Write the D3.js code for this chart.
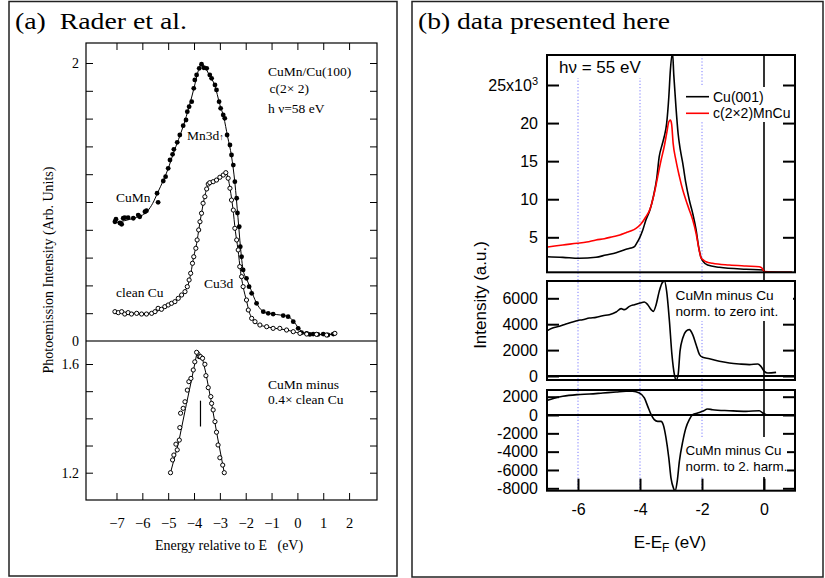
<!DOCTYPE html>
<html><head><meta charset="utf-8">
<script src="https://cdn.jsdelivr.net/npm/d3@7"></script>
<style>
body{margin:0;background:#fff;}
svg{display:block;}
.serif{font-family:"Liberation Serif","Times New Roman",serif;}
.sans{font-family:"Liberation Sans",Arial,Helvetica,sans-serif;}
</style></head><body>
<svg id="fig" width="825" height="578"></svg>
<script>
// ---------- (a) Rader et al. : photoemission spectra, hv = 58 eV ----------
// [energy (eV), intensity (arb. units)]
const cuMnPoints = [[-7.06,0.858],[-7.02,0.876],[-6.87,0.849],[-6.80,0.840],[-6.74,0.883],[-6.68,0.887],[-6.55,0.887],[-6.35,0.883],[-6.16,0.906],[-6.10,0.894],[-5.90,0.930],[-5.84,0.937],[-5.43,1.063],[-5.39,0.998],[-5.19,1.151],[-5.10,1.182],[-5.00,1.242],[-4.93,1.302],[-4.83,1.343],[-4.78,1.379],[-4.65,1.429],[-4.55,1.482],[-4.42,1.549],[-4.31,1.590],[-4.26,1.650],[-4.19,1.686],[-4.09,1.722],[-4.01,1.818],[-3.97,1.878],[-3.90,1.914],[-3.80,1.962],[-3.71,1.991],[-3.62,1.966],[-3.51,1.962],[-3.39,1.914],[-3.32,1.890],[-3.19,1.842],[-3.13,1.806],[-3.03,1.722],[-2.97,1.674],[-2.87,1.626],[-2.81,1.602],[-2.72,1.482],[-2.61,1.410],[-2.55,1.338],[-2.48,1.266],[-2.42,1.146],[-2.35,1.027],[-2.32,0.921],[-2.25,0.822],[-2.21,0.678],[-2.16,0.606],[-2.10,0.511],[-1.97,0.451],[-1.87,0.391],[-1.77,0.343],[-1.58,0.271],[-1.32,0.211],[-1.13,0.199],[-0.94,0.194],[-0.55,0.183],[-0.36,0.175],[-0.16,0.139],[0.03,0.091],[0.16,0.060],[0.36,0.055],[0.48,0.047],[0.61,0.050],[0.79,0.047],[1.00,0.050],[1.18,0.043],[1.39,0.050]];
const cuMnFit = [[-7.06,0.85],[-6.7,0.865],[-6.3,0.885],[-6.0,0.905],[-5.8,0.935],[-5.6,0.99],[-5.4,1.07],[-5.2,1.15],[-5.0,1.24],[-4.8,1.35],[-4.6,1.45],[-4.4,1.555],[-4.2,1.68],[-4.0,1.82],[-3.85,1.935],[-3.72,1.99],[-3.6,1.975],[-3.4,1.91],[-3.2,1.84],[-3.0,1.70],[-2.85,1.61],[-2.7,1.47],[-2.55,1.33],[-2.42,1.14],[-2.3,0.89],[-2.2,0.67],[-2.1,0.51],[-1.95,0.44],[-1.8,0.37],[-1.6,0.28],[-1.35,0.215],[-1.1,0.198],[-0.8,0.19],[-0.5,0.182],[-0.3,0.17],[-0.1,0.13],[0.1,0.08],[0.3,0.057],[0.7,0.05],[1.1,0.047],[1.45,0.05]];
const cleanCuPoints = [[-7.06,0.211],[-6.93,0.204],[-6.80,0.211],[-6.68,0.194],[-6.55,0.204],[-6.42,0.194],[-6.22,0.199],[-6.03,0.194],[-5.84,0.194],[-5.64,0.199],[-5.51,0.211],[-5.39,0.235],[-5.26,0.228],[-5.13,0.247],[-5.00,0.259],[-4.87,0.271],[-4.74,0.283],[-4.61,0.307],[-4.48,0.331],[-4.35,0.355],[-4.26,0.391],[-4.19,0.439],[-4.13,0.487],[-4.06,0.559],[-4.01,0.606],[-3.93,0.667],[-3.88,0.727],[-3.82,0.799],[-3.77,0.858],[-3.71,0.919],[-3.65,0.991],[-3.58,1.038],[-3.51,1.094],[-3.45,1.129],[-3.39,1.139],[-3.26,1.146],[-3.13,1.158],[-3.00,1.178],[-2.87,1.194],[-2.77,1.211],[-2.68,1.171],[-2.61,1.099],[-2.55,1.014],[-2.48,0.942],[-2.42,0.811],[-2.35,0.727],[-2.29,0.655],[-2.23,0.535],[-2.16,0.463],[-2.10,0.391],[-1.97,0.295],[-1.90,0.223],[-1.77,0.163],[-1.64,0.139],[-1.45,0.115],[-1.19,0.103],[-0.94,0.091],[-0.68,0.091],[-0.42,0.079],[-0.16,0.067],[0.10,0.055],[0.36,0.050],[0.74,0.048],[1.13,0.043],[1.45,0.055]];
const cleanCuFit = [[-7.06,0.208],[-6.5,0.202],[-6.0,0.197],[-5.6,0.203],[-5.3,0.225],[-5.0,0.255],[-4.7,0.288],[-4.5,0.325],[-4.35,0.36],[-4.22,0.41],[-4.12,0.49],[-4.02,0.60],[-3.9,0.70],[-3.8,0.82],[-3.7,0.93],[-3.6,1.03],[-3.5,1.10],[-3.4,1.135],[-3.2,1.155],[-3.0,1.178],[-2.85,1.198],[-2.76,1.21],[-2.68,1.17],[-2.6,1.09],[-2.5,0.96],[-2.4,0.79],[-2.3,0.66],[-2.2,0.50],[-2.1,0.39],[-1.97,0.29],[-1.85,0.20],[-1.72,0.155],[-1.5,0.118],[-1.2,0.103],[-0.9,0.092],[-0.5,0.082],[-0.15,0.067],[0.1,0.055],[0.5,0.049],[1.0,0.045],[1.45,0.052]];
// CuMn minus 0.4 x clean Cu
const diffPoints = [[-4.91,1.200],[-4.83,1.247],[-4.78,1.265],[-4.70,1.305],[-4.65,1.284],[-4.57,1.320],[-4.55,1.366],[-4.52,1.419],[-4.42,1.437],[-4.35,1.461],[-4.26,1.504],[-4.20,1.535],[-4.12,1.547],[-4.03,1.578],[-3.97,1.608],[-3.90,1.643],[-3.80,1.627],[-3.75,1.627],[-3.67,1.621],[-3.58,1.599],[-3.54,1.557],[-3.45,1.513],[-3.35,1.480],[-3.32,1.455],[-3.26,1.431],[-3.19,1.388],[-3.13,1.349],[-3.07,1.302],[-3.00,1.255],[-2.89,1.228],[-2.83,1.200]];
const diffFit = [[-4.91,1.20],[-4.6,1.31],[-4.3,1.45],[-4.1,1.54],[-3.9,1.635],[-3.82,1.645],[-3.7,1.63],[-3.55,1.57],[-3.35,1.47],[-3.1,1.335],[-2.83,1.20]];
const mnMarker = [[-3.75,1.37],[-3.75,1.465]];
const xTicksA = [-7,-6,-5,-4,-3,-2,-1,0,1,2];
const yTicksATop = [0,0.2,0.4,0.6,0.8,1.0,1.2,1.4,1.6,1.8,2.0];
const yLabelsATop = [0,2];
const yTicksABot = [1.2,1.3,1.4,1.5,1.6];
const yLabelsABot = [1.2,1.6];

// ---------- (b) data presented here : hv = 55 eV ----------
// [E-EF (eV), intensity (x10^3)]
const cu001 = [[-7.03,2.45],[-6.49,2.37],[-5.96,2.24],[-5.42,2.37],[-5.10,2.68],[-4.77,2.98],[-4.45,3.43],[-4.29,3.60],[-4.18,3.77],[-4.11,4.21],[-4.02,4.87],[-3.91,5.96],[-3.81,7.27],[-3.68,8.58],[-3.57,10.33],[-3.46,12.74],[-3.38,15.58],[-3.29,17.11],[-3.22,18.20],[-3.14,19.96],[-3.07,23.45],[-3.02,26.96],[-2.95,29.2],[-2.91,26.3],[-2.84,22.1],[-2.77,18.6],[-2.70,16.5],[-2.62,14.7],[-2.52,12.1],[-2.41,9.9],[-2.30,8.15],[-2.19,5.96],[-2.11,3.77],[-2.04,2.45],[-1.96,1.8],[-1.82,1.36],[-1.44,1.06],[-0.58,0.8],[-0.04,0.71],[0.04,0.45],[0.9,0.41]];
const mnCu = [[-7.03,3.69],[-6.75,3.85],[-6.49,3.99],[-6.03,4.21],[-5.72,4.38],[-5.42,4.65],[-5.15,4.82],[-4.88,5.08],[-4.65,5.30],[-4.45,5.60],[-4.28,5.85],[-4.13,6.18],[-3.97,6.75],[-3.81,7.70],[-3.68,8.67],[-3.54,10.77],[-3.43,12.95],[-3.32,15.14],[-3.22,16.89],[-3.14,18.65],[-3.07,20.17],[-3.02,20.39],[-2.98,19.87],[-2.93,17.3],[-2.84,15.1],[-2.73,13.0],[-2.62,11.2],[-2.52,9.9],[-2.41,8.6],[-2.30,7.3],[-2.19,5.5],[-2.09,3.3],[-2.03,2.3],[-1.96,2.05],[-1.87,1.80],[-1.66,1.59],[-1.12,1.36],[-0.58,1.23],[-0.15,1.14],[-0.06,0.93],[0.01,0.49],[0.49,0.41],[0.9,0.41]];
// CuMn minus Cu, normalised to zero intensity
const diffZero = [[-7.03,3449],[-6.82,3707],[-6.60,3835],[-6.39,4015],[-6.17,4170],[-6.03,4273],[-5.85,4350],[-5.63,4478],[-5.42,4530],[-5.20,4659],[-4.99,4736],[-4.77,4942],[-4.61,5199],[-4.50,5122],[-4.34,5379],[-4.18,5508],[-4.00,5636],[-3.86,5713],[-3.75,5508],[-3.64,5122],[-3.57,4993],[-3.48,5508],[-3.38,6537],[-3.27,7250],[-3.21,7320],[-3.14,6537],[-3.05,4221],[-2.97,1648],[-2.89,104],[-2.84,-330],[-2.77,104],[-2.71,1905],[-2.62,2935],[-2.52,3449],[-2.41,3578],[-2.30,3192],[-2.19,2420],[-2.08,1648],[-1.98,1442],[-1.76,1339],[-1.44,1133],[-1.12,1005],[-0.80,927],[-0.47,876],[-0.20,927],[-0.10,746],[0.01,360],[0.12,232],[0.39,283]];
// CuMn minus Cu, normalised to 2nd harmonic
const diffHarm = [[-7.03,1568],[-6.82,1786],[-6.49,2041],[-6.03,2224],[-5.63,2296],[-5.20,2406],[-4.77,2515],[-4.45,2588],[-4.24,2588],[-4.02,2406],[-3.86,1859],[-3.75,948],[-3.64,37],[-3.54,-509],[-3.43,-692],[-3.32,-692],[-3.25,-1056],[-3.16,-2513],[-3.07,-4699],[-3.00,-6885],[-2.92,-7978],[-2.87,-8300],[-2.80,-7248],[-2.73,-5062],[-2.62,-2877],[-2.52,-1420],[-2.41,-509],[-2.30,37],[-2.14,219],[-1.98,401],[-1.82,656],[-1.66,583],[-1.12,474],[-0.58,401],[-0.15,474],[-0.04,219],[0.07,37]];
const xTicksB = [-6,-4,-2,0];
const guideLinesB = [-6,-4,-2];
const yTicksB1 = [5,10,15,20,25];
const yTicksB2 = [0,2000,4000,6000];
const yTicksB3 = [-8000,-6000,-4000,-2000,0,2000];

const svg = d3.select("#fig");

// ---------- panel borders ----------
svg.append("rect").attr("x",9).attr("y",1.5).attr("width",388).attr("height",574.5)
  .attr("fill","none").attr("stroke","#222").attr("stroke-width",1.5);
svg.append("rect").attr("x",412).attr("y",1.5).attr("width",411).attr("height",575.5)
  .attr("fill","none").attr("stroke","#222").attr("stroke-width",1.5);

svg.append("text").attr("class","serif").attr("x",15).attr("y",28.5)
  .attr("font-size",24).attr("textLength",172).attr("lengthAdjust","spacingAndGlyphs")
  .style("white-space","pre").text("(a)  Rader et al.");
svg.append("text").attr("class","serif").attr("x",418).attr("y",28.5)
  .attr("font-size",24).attr("textLength",252).attr("lengthAdjust","spacingAndGlyphs")
  .text("(b) data presented here");

// ================= panel (a) =================
const A = {l:86, r:377, t:43, b:500};
const xa = d3.scaleLinear().domain([-8.18, 3.08]).range([A.l, A.r]);
const yaTop = d3.scaleLinear().domain([0, 2]).range([341, 63]);
const yaBot = d3.scaleLinear().domain([1.2, 1.6]).range([472.7, 364]);
const ga = svg.append("g");

function styleAxis(g, family, size, width) {
  g.select(".domain").remove();
  g.attr("font-family", family).attr("font-size", size);
  g.selectAll("line").attr("stroke","#000").attr("stroke-width", width);
  g.selectAll("text").attr("fill","#000");
}
const serifFam = '"Liberation Serif","Times New Roman",serif';
const sansFam = '"Liberation Sans",Arial,Helvetica,sans-serif';
const fmtA = d3.format("d");

ga.append("g").attr("transform",`translate(0,${A.b})`)
  .call(d3.axisBottom(xa).tickValues(xTicksA).tickSize(-7).tickPadding(18).tickFormat(fmtA))
  .call(g => styleAxis(g, serifFam, 14.5, 1));
ga.append("g").attr("transform",`translate(0,${A.t})`)
  .call(d3.axisTop(xa).tickValues(xTicksA).tickSize(-7).tickFormat(""))
  .call(g => styleAxis(g, serifFam, 14, 1));
ga.append("g").attr("transform",`translate(${A.l},0)`)
  .call(d3.axisLeft(yaTop).tickValues(yTicksATop).tickSize(-7).tickPadding(7)
    .tickFormat(d => yLabelsATop.includes(d) ? d3.format("d")(d) : ""))
  .call(g => styleAxis(g, serifFam, 14, 1));
ga.append("g").attr("transform",`translate(${A.r},0)`)
  .call(d3.axisRight(yaTop).tickValues(yTicksATop).tickSize(-7).tickFormat(""))
  .call(g => styleAxis(g, serifFam, 14, 1));
ga.append("g").attr("transform",`translate(${A.l},0)`)
  .call(d3.axisLeft(yaBot).tickValues(yTicksABot).tickSize(-7).tickPadding(7)
    .tickFormat(d => yLabelsABot.includes(d) ? d3.format(".1f")(d) : ""))
  .call(g => styleAxis(g, serifFam, 14, 1));
ga.append("g").attr("transform",`translate(${A.r},0)`)
  .call(d3.axisRight(yaBot).tickValues(yTicksABot).tickSize(-7).tickFormat(""))
  .call(g => styleAxis(g, serifFam, 14, 1));

// zero line separating the two sections
ga.append("line").attr("x1",A.l).attr("x2",A.r).attr("y1",yaTop(0)).attr("y2",yaTop(0))
  .attr("stroke","#6e6e6e").attr("stroke-width",2);
ga.append("rect").attr("x",A.l).attr("y",A.t).attr("width",A.r-A.l).attr("height",A.b-A.t)
  .attr("fill","none").attr("stroke","#000").attr("stroke-width",1.2);

const lineTop = d3.line().x(d => xa(d[0])).y(d => yaTop(d[1])).curve(d3.curveMonotoneX);
const lineBot = d3.line().x(d => xa(d[0])).y(d => yaBot(d[1]));
[cuMnFit, cleanCuFit].forEach(s => ga.append("path").attr("d", lineTop(s))
  .attr("fill","none").attr("stroke","#000").attr("stroke-width",1));
ga.append("path").attr("d", lineBot(diffFit)).attr("fill","none").attr("stroke","#000").attr("stroke-width",1);
ga.append("path").attr("d", lineBot(mnMarker)).attr("fill","none").attr("stroke","#000").attr("stroke-width",1.2);

ga.selectAll("circle.cumn").data(cuMnPoints).join("circle").attr("class","cumn")
  .attr("cx", d => xa(d[0])).attr("cy", d => yaTop(d[1])).attr("r",2.4).attr("fill","#000");
ga.selectAll("circle.clean").data(cleanCuPoints).join("circle").attr("class","clean")
  .attr("cx", d => xa(d[0])).attr("cy", d => yaTop(d[1])).attr("r",2.1)
  .attr("fill","#fff").attr("stroke","#000").attr("stroke-width",1);
ga.selectAll("circle.diff").data(diffPoints).join("circle").attr("class","diff")
  .attr("cx", d => xa(d[0])).attr("cy", d => yaBot(d[1])).attr("r",2.1)
  .attr("fill","#fff").attr("stroke","#000").attr("stroke-width",1);

function serifText(x, y, s, size) {
  return ga.append("text").attr("class","serif").attr("x",x).attr("y",y)
    .attr("font-size", size || 13.5).style("white-space","pre").text(s);
}
serifText(268, 76, "CuMn/Cu(100)");
serifText(269.5, 93, "c(2× 2)");
serifText(268, 113, "h ν=58 eV");
const mn = serifText(187, 140, "Mn3d");
mn.append("tspan").attr("font-size",9).text("↑");
serifText(116, 202, "CuMn");
serifText(116, 297, "clean Cu");
serifText(204, 287.5, "Cu3d");
serifText(268, 389, "CuMn minus");
serifText(268, 404, "0.4× clean Cu");
serifText(229, 550, "Energy relative to E   (eV)", 14).attr("text-anchor","middle");
ga.append("text").attr("class","serif").attr("font-size",14)
  .attr("transform","translate(52.5,270) rotate(-90)").attr("text-anchor","middle")
  .text("Photoemission Intensity (Arb. Units)");

// ================= panel (b) =================
const B = {l:547, r:795};
const P1 = {t:55, b:272.3}, P2 = {t:281, b:380}, P3 = {t:390, b:490.7};
const xb = d3.scaleLinear().domain([-7, 1]).range([B.l, B.r]);
const yb1 = d3.scaleLinear().domain([5, 25]).range([237.3, 85]);
const yb2 = d3.scaleLinear().domain([0, 6000]).range([376, 298.3]);
const yb3 = d3.scaleLinear().domain([-8000, 2000]).range([488.3, 396.7]);
const gb = svg.append("g");

// guide lines
gb.selectAll("line.guide").data(guideLinesB).join("line").attr("class","guide")
  .attr("x1", d => xb(d)).attr("x2", d => xb(d)).attr("y1",P1.t).attr("y2",P3.b)
  .attr("stroke","#7a7aff").attr("stroke-width",1).attr("stroke-dasharray","1.2,2");
gb.append("line").attr("x1",xb(0)).attr("x2",xb(0)).attr("y1",P1.t).attr("y2",P3.b)
  .attr("stroke","#000").attr("stroke-width",1.6);

const fmtB = d => String(d);
function yAxes(scale, ticks, fmt) {
  gb.append("g").attr("transform",`translate(${B.l},0)`)
    .call(d3.axisLeft(scale).tickValues(ticks).tickSize(-12).tickPadding(9).tickFormat(fmt))
    .call(g => styleAxis(g, sansFam, 16, 2));
  gb.append("g").attr("transform",`translate(${B.r},0)`)
    .call(d3.axisRight(scale).tickValues(ticks).tickSize(-12).tickFormat(""))
    .call(g => styleAxis(g, sansFam, 16, 2));
}
yAxes(yb1, yTicksB1, fmtB);
yAxes(yb2, yTicksB2, fmtB);
yAxes(yb3, yTicksB3, fmtB);
gb.append("g").attr("transform",`translate(0,${P3.b})`)
  .call(d3.axisBottom(xb).tickValues(xTicksB).tickSize(-12).tickPadding(13).tickFormat(fmtB))
  .call(g => styleAxis(g, sansFam, 16, 2));
// exponent on the top tick label
gb.selectAll("text").filter(function(){ return this.textContent === "25"; })
  .each(function(){
    const t = d3.select(this).text(null);
    t.append("tspan").text("25x10");
    t.append("tspan").attr("font-size",11).attr("dy","-0.55em").text("3");
  });

// white boxes behind the annotations
[[549,56,96,22],[681,87,112,35],[671,282,122,39],[683,437,104,40]].forEach(r =>
  gb.append("rect").attr("x",r[0]).attr("y",r[1]).attr("width",r[2]).attr("height",r[3]).attr("fill","#fff"));

// zero lines of the difference panels
gb.append("line").attr("x1",B.l).attr("x2",B.r).attr("y1",yb2(0)).attr("y2",yb2(0)).attr("stroke","#000").attr("stroke-width",1.8);
gb.append("line").attr("x1",B.l).attr("x2",B.r).attr("y1",yb3(0)).attr("y2",yb3(0)).attr("stroke","#000").attr("stroke-width",1.8);

const defs = svg.append("defs");
[["c1",P1],["c2",P2],["c3",P3]].forEach(([id,p]) =>
  defs.append("clipPath").attr("id",id).append("rect")
    .attr("x",B.l).attr("y",p.t).attr("width",B.r-B.l).attr("height",p.b-p.t));

const lb1 = d3.line().x(d => xb(d[0])).y(d => yb1(d[1])).curve(d3.curveMonotoneX);
const lb2 = d3.line().x(d => xb(d[0])).y(d => yb2(d[1])).curve(d3.curveMonotoneX);
const lb3 = d3.line().x(d => xb(d[0])).y(d => yb3(d[1])).curve(d3.curveMonotoneX);
gb.append("path").attr("d", lb1(cu001)).attr("clip-path","url(#c1)")
  .attr("fill","none").attr("stroke","#000").attr("stroke-width",1.6);
gb.append("path").attr("d", lb1(mnCu)).attr("clip-path","url(#c1)")
  .attr("fill","none").attr("stroke","#f00").attr("stroke-width",1.6);
gb.append("path").attr("d", lb2(diffZero)).attr("clip-path","url(#c2)")
  .attr("fill","none").attr("stroke","#000").attr("stroke-width",1.6);
gb.append("path").attr("d", lb3(diffHarm)).attr("clip-path","url(#c3)")
  .attr("fill","none").attr("stroke","#000").attr("stroke-width",1.6);

// frames
[P1,P2,P3].forEach(p => gb.append("rect").attr("x",B.l).attr("y",p.t)
  .attr("width",B.r-B.l).attr("height",p.b-p.t).attr("fill","none")
  .attr("stroke","#000").attr("stroke-width",2));

function sansText(x, y, s, size) {
  return gb.append("text").attr("class","sans").attr("x",x).attr("y",y)
    .attr("font-size", size || 14).text(s);
}
sansText(559, 73.3, "hν = 55 eV", 17);
gb.append("line").attr("x1",686).attr("x2",709).attr("y1",96.7).attr("y2",96.7).attr("stroke","#000").attr("stroke-width",1.6);
gb.append("line").attr("x1",686).attr("x2",709).attr("y1",113.3).attr("y2",113.3).attr("stroke","#f00").attr("stroke-width",1.6);
sansText(713, 101.8, "Cu(001)");
sansText(713, 118.4, "c(2×2)MnCu");
sansText(675.5, 299.8, "CuMn minus Cu", 13.7);
sansText(675.5, 315.5, "norm. to zero int.", 13.7);
sansText(685.5, 454.6, "CuMn minus Cu", 13.4);
sansText(685.5, 470.6, "norm. to 2. harm.", 13.4);
const xl = sansText(670, 548, "E-E", 17).attr("text-anchor","middle");
xl.append("tspan").attr("font-size",12).attr("dy","0.3em").text("F");
xl.append("tspan").attr("dy","-0.22em").text(" (eV)");
gb.append("text").attr("class","sans").attr("font-size",17)
  .attr("transform","translate(486,295) rotate(-90)").attr("text-anchor","middle")
  .text("Intensity (a.u.)");
</script>
</body></html>
